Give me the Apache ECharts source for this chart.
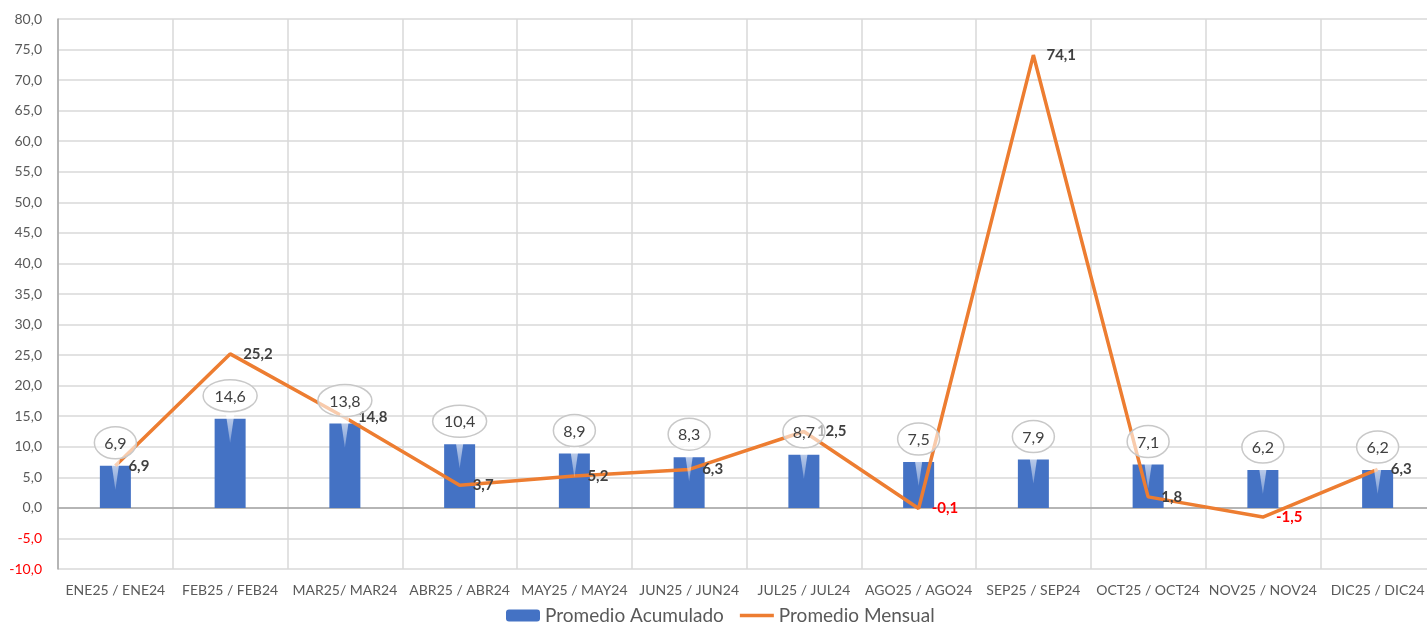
<!DOCTYPE html>
<html>
<head>
<meta charset="utf-8">
<script src="https://cdn.jsdelivr.net/npm/echarts@6/dist/echarts.min.js"></script>
<style>
  html, body { margin: 0; padding: 0; background: #fff; }
  #chart { width: 1427px; height: 622px; }
</style>
</head>
<body>
<div id="chart"></div>
<script>
// periodos comparados
const categorias = ['ENE25 / ENE24', 'FEB25 / FEB24', 'MAR25/ MAR24', 'ABR25 / ABR24', 'MAY25 / MAY24', 'JUN25 / JUN24',
  'JUL25 / JUL24', 'AGO25 / AGO24', 'SEP25 / SEP24', 'OCT25 / OCT24', 'NOV25 / NOV24', 'DIC25 / DIC24'];
const promedioAcumulado = [6.9, 14.6, 13.8, 10.4, 8.9, 8.3, 8.7, 7.5, 7.9, 7.1, 6.2, 6.2];
const promedioMensual = [6.9, 25.2, 14.8, 3.7, 5.2, 6.3, 12.5, -0.1, 74.1, 1.8, -1.5, 6.3];
const ejeY = { min: -10, max: 80, interval: 5 };

const fmt = v => Number(v).toFixed(1).replace('.', ',');
const font = 'Lato, "Noto Sans", sans-serif';

let myChart = echarts.init(document.getElementById('chart'));

// globos sobre las barras
function renderGlobo(params, api) {
  const p = api.coord([api.value(0), api.value(1)]);
  const txt = fmt(api.value(1));
  const rx = txt.length > 3 ? 27 : 21;
  const ry = 16;
  const cx = p[0];
  const cy = p[1] - 23;
  return {
    type: 'group',
    children: [
      {
        type: 'polygon',
        shape: { points: [[cx - 5, cy + ry - 3], [cx + 5, cy + ry - 3], [cx, p[1] + 24]] },
        style: {
          fill: new echarts.graphic.LinearGradient(0, 0, 0, 1, [
            { offset: 0, color: 'rgba(255,255,255,0.75)' },
            { offset: 1, color: 'rgba(255,255,255,0.3)' }
          ])
        }
      },
      {
        type: 'ellipse',
        shape: { cx: cx, cy: cy, rx: rx, ry: ry },
        style: { fill: 'rgba(255,255,255,0.6)', stroke: '#C8C8C8', lineWidth: 1.5 }
      },
      {
        type: 'text',
        style: {
          x: cx, y: cy + 1, text: txt, align: 'center', verticalAlign: 'middle',
          fill: '#404040', font: '16px ' + font
        }
      }
    ]
  };
}

const ejeBase = {
  type: 'value',
  min: ejeY.min,
  max: ejeY.max,
  interval: ejeY.interval,
  position: 'left',
  axisTick: { show: false }
};

myChart.setOption({
  textStyle: { fontFamily: font },
  grid: { left: 58, right: -8, top: 19, bottom: 53, outerBoundsMode: 'none', containLabel: false },
  legend: {
    data: [
      { name: 'Promedio Acumulado' },
      { name: 'Promedio Mensual', icon: 'path://M0,0 L34,0 L34,3.5 L0,3.5 Z' }
    ],
    bottom: -8,
    left: 501,
    itemWidth: 34,
    itemHeight: 12,
    itemGap: 16,
    textStyle: { fontSize: 19, color: '#595959' }
  },
  xAxis: {
    type: 'category',
    data: categorias,
    axisTick: { show: false },
    axisLine: { lineStyle: { color: '#A6A6A6', width: 1.5 } },
    axisLabel: { fontSize: 14, color: '#595959', margin: 14, interval: 0 },
    splitLine: { show: true, lineStyle: { color: '#D9D9D9', width: 1.5 } }
  },
  yAxis: [
    Object.assign({}, ejeBase, {
      axisLine: { show: true, lineStyle: { color: '#A6A6A6', width: 1.5 } },
      axisLabel: {
        fontSize: 14,
        margin: 16,
        showMinLabel: false,
        formatter: v => Number(v) < 0 ? '{neg|' + fmt(v) + '}' : '{pos|' + fmt(v) + '}',
        rich: {
          neg: { color: '#FF0000', fontSize: 14 },
          pos: { color: '#595959', fontSize: 14 }
        }
      },
      splitLine: { lineStyle: { color: '#D9D9D9', width: 1.5 } }
    }),
    // solo la etiqueta inferior, en rojo
    Object.assign({}, ejeBase, {
      axisLine: { show: false },
      splitLine: { show: false },
      axisLabel: {
        fontSize: 14,
        margin: 16,
        color: '#FF0000',
        showMinLabel: true,
        formatter: v => Number(v) === ejeY.min ? fmt(v) : ''
      }
    })
  ],
  series: [
    {
      name: 'Promedio Acumulado',
      type: 'bar',
      data: promedioAcumulado,
      barWidth: 31,
      itemStyle: { color: '#4472C4' },
      z: 2
    },
    {
      name: 'Promedio Mensual',
      type: 'line',
      data: promedioMensual,
      symbol: 'circle',
      symbolSize: 0.1,
      lineStyle: { color: '#ED7D31', width: 3.5 },
      itemStyle: { color: '#ED7D31' },
      label: {
        show: true,
        position: 'right',
        distance: 13,
        fontSize: 15,
        fontWeight: 'bold',
        color: '#404040',
        formatter: p => p.value < 0 ? '{neg|' + fmt(p.value) + '}' : fmt(p.value),
        rich: { neg: { color: '#FF0000', fontSize: 15, fontWeight: 'bold' } }
      },
      z: 3
    },
    {
      name: 'globos',
      type: 'custom',
      renderItem: renderGlobo,
      data: promedioAcumulado.map((v, i) => [i, v]),
      encode: { x: 0, y: 1 },
      silent: true,
      z: 4
    }
  ]
});
</script>
</body>
</html>
